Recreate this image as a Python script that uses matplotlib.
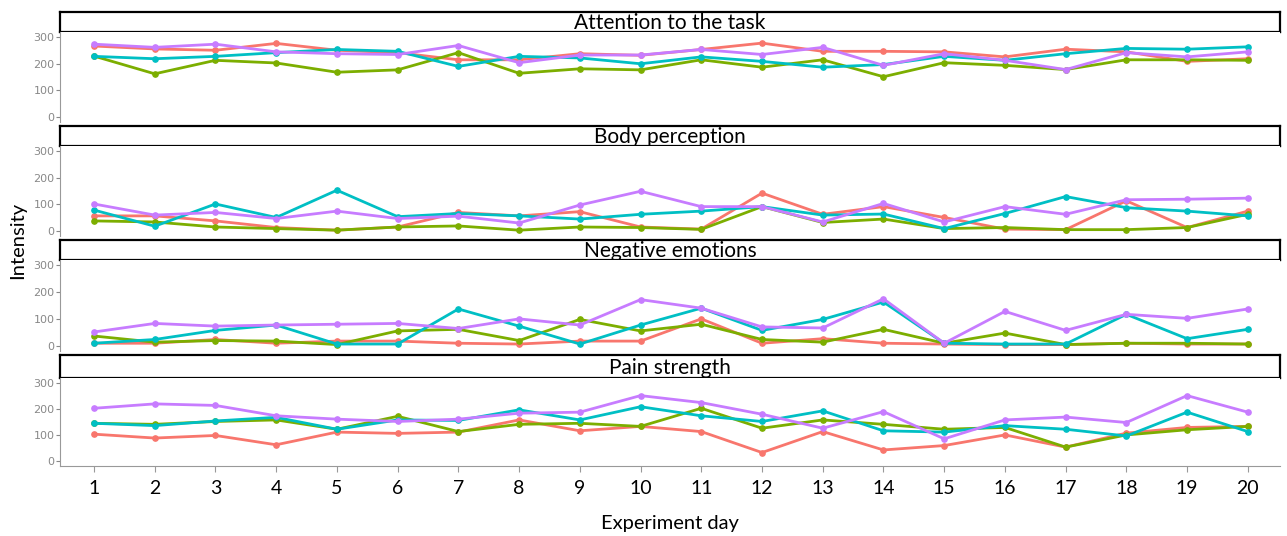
import numpy as np
import matplotlib
matplotlib.use("Agg")
import matplotlib.pyplot as plt

# experiment days and the four facet panels
days = list(range(1, 21))
panel_titles = ["Attention to the task", "Body perception", "Negative emotions", "Pain strength"]

# series per panel (red, green, cyan, purple)
attention_red = [267, 256, 251, 277, 251, 242, 215, 215, 238, 232, 254, 278, 247, 247, 245, 226, 255, 245, 209, 219]
attention_green = [229, 162, 213, 203, 168, 177, 242, 164, 181, 177, 215, 187, 215, 151, 204, 194, 178, 215, 215, 213]
attention_cyan = [228, 219, 228, 242, 254, 247, 190, 228, 222, 200, 226, 209, 187, 197, 228, 213, 238, 258, 255, 264]
attention_purple = [274, 262, 274, 245, 238, 235, 269, 204, 233, 233, 254, 235, 262, 194, 238, 213, 178, 242, 226, 245]

body_red = [56, 56, 37, 12, 2, 14, 69, 56, 72, 14, 6, 142, 62, 91, 50, 6, 4, 113, 12, 74]
body_green = [37, 33, 14, 8, 2, 14, 18, 2, 14, 12, 5, 91, 31, 44, 8, 12, 4, 4, 12, 62]
body_cyan = [78, 17, 101, 50, 153, 53, 65, 56, 44, 62, 74, 91, 59, 63, 8, 65, 129, 87, 74, 56]
body_purple = [101, 59, 69, 46, 74, 46, 55, 29, 97, 149, 91, 91, 33, 103, 33, 91, 62, 117, 119, 123]

negative_red = [9, 9, 23, 9, 17, 17, 9, 6, 17, 17, 100, 9, 26, 9, 6, 4, 4, 9, 6, 6]
negative_green = [36, 13, 19, 17, 4, 55, 61, 19, 98, 55, 80, 23, 13, 61, 9, 47, 4, 9, 9, 6]
negative_cyan = [9, 23, 57, 77, 6, 6, 137, 73, 6, 77, 140, 57, 98, 163, 9, 6, 6, 117, 26, 61]
negative_purple = [51, 83, 73, 77, 80, 83, 64, 100, 77, 172, 140, 70, 66, 175, 9, 128, 57, 117, 102, 137]

pain_red = [103, 88, 98, 62, 111, 106, 111, 158, 116, 133, 113, 32, 113, 42, 59, 100, 53, 107, 129, 133]
pain_green = [145, 141, 152, 158, 122, 172, 113, 141, 145, 133, 203, 126, 158, 141, 122, 129, 53, 100, 120, 133]
pain_cyan = [145, 136, 154, 168, 122, 158, 156, 197, 158, 209, 174, 152, 193, 116, 111, 136, 122, 96, 188, 113]
pain_purple = [203, 220, 214, 174, 161, 152, 161, 184, 188, 252, 225, 180, 126, 190, 85, 158, 169, 148, 252, 188]

panel_series = [
    [attention_red, attention_green, attention_cyan, attention_purple],
    [body_red, body_green, body_cyan, body_purple],
    [negative_red, negative_green, negative_cyan, negative_purple],
    [pain_red, pain_green, pain_cyan, pain_purple],
]
colors = ["#F8766D", "#7CAE00", "#00BFC4", "#C77CFF"]
y_ticks = [0, 100, 200, 300]

W, H = 1287, 536
fig = plt.figure(figsize=(W / 100, H / 100), dpi=100)
font = ["Lato", "DejaVu Sans"]

# pixel layout: (header top, header bottom / plot top, plot bottom)
layout = [(12, 32, 122), (126, 146, 236), (240, 260, 351), (355, 378, 466)]
x0, x1 = 60, 1280

def frac(left, top, right, bottom):
    return [left / W, 1 - bottom / H, (right - left) / W, (bottom - top) / H]

for i, (ht, hb, pb) in enumerate(layout):
    # strip header
    hax = fig.add_axes(frac(x0, ht, x1, hb))
    hax.set_xticks([])
    hax.set_yticks([])
    for s in hax.spines.values():
        s.set_color("black")
        s.set_linewidth(1.6)
    hax.text(0.5, 0.45, panel_titles[i], ha="center", va="center",
             fontsize=15, family=font, transform=hax.transAxes)

    ax = fig.add_axes(frac(x0, hb, x1, pb))
    for vals, c in zip(panel_series[i], colors):
        ax.plot(days, vals, color=c, lw=2.0, marker="o", ms=3.8, solid_joinstyle="round")
    ax.set_xlim(0.44, 20.53)
    ax.set_ylim(-20, 320)
    ax.set_yticks(y_ticks)
    ax.tick_params(axis="y", labelsize=8, colors="#888888", length=3, pad=1)
    for t in ax.get_yticklabels():
        t.set_color("#888888")
    ax.spines["top"].set_visible(False)
    ax.spines["right"].set_visible(False)
    ax.spines["left"].set_color("#999999")
    if i < 3:
        ax.spines["bottom"].set_visible(False)
        ax.set_xticks([])
    else:
        ax.spines["bottom"].set_color("#999999")
        ax.set_xticks(days)
        ax.tick_params(axis="x", labelsize=14, colors="#999999", length=4, pad=6)
        for t in ax.get_xticklabels():
            t.set_color("black")
            t.set_family(font)

fig.text(18 / W, 1 - 240 / H, "Intensity", rotation=90, ha="center", va="center",
         fontsize=14.5, family=font)
fig.text(670 / W, 1 - 524 / H, "Experiment day", ha="center", va="center",
         fontsize=14.5, family=font)

fig.savefig("out.png", dpi=100)
